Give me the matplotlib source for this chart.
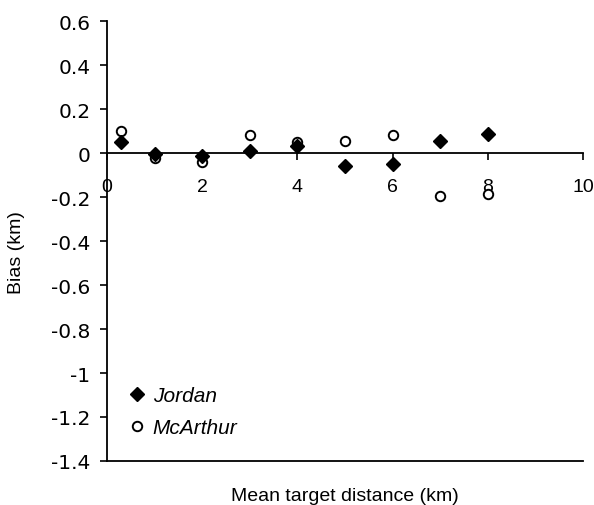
import matplotlib
matplotlib.use("Agg")
import matplotlib.pyplot as plt

jordan_x = [0.3, 1, 2, 3, 4, 5, 6, 7, 8]
jordan_y = [0.05, -0.005, -0.015, 0.01, 0.03, -0.06, -0.05, 0.053, 0.086]
mcarthur_x = [0.3, 1, 2, 3, 4, 5, 6, 7, 8]
mcarthur_y = [0.10, -0.024, -0.04, 0.083, 0.049, 0.056, 0.082, -0.194, -0.186]

xticks = [0, 2, 4, 6, 8, 10]
yticks = [0.6, 0.4, 0.2, 0, -0.2, -0.4, -0.6, -0.8, -1, -1.2, -1.4]
ytick_labels = ["0.6", "0.4", "0.2", "0", "-0.2", "-0.4", "-0.6", "-0.8", "-1", "-1.2", "-1.4"]

fig = plt.figure(figsize=(5.94, 5.06), dpi=100)
ax = fig.add_axes([107/594, 1 - 462/506, 476/594, 440/506])

ax.plot(jordan_x, jordan_y, linestyle="none", marker="D", ms=7, color="black",
        label="Jordan", clip_on=False, zorder=4)
ax.plot(mcarthur_x, mcarthur_y, linestyle="none", marker="o", ms=6.8, mfc="white",
        mec="black", mew=1.4, label="McArthur", clip_on=False, zorder=3)

ax.set_xlim(0, 10)
ax.set_ylim(-1.4, 0.6)

for s in ["left", "bottom", "top"]:
    ax.spines[s].set_linewidth(1.3)
ax.spines["right"].set_visible(False)
ax.spines["bottom"].set_position(("data", 0))
ax.spines["top"].set_position(("data", -1.4))

ax.set_xticks(xticks)
ax.set_xticklabels([str(t) for t in xticks], fontfamily="Liberation Sans", fontsize=14)
ax.tick_params(axis="x", direction="out", length=5, width=1.2, pad=13, top=False)
ax.set_yticks(yticks)
ax.set_yticklabels(ytick_labels, fontfamily="DejaVu Sans", fontsize=14.5)
ax.tick_params(axis="y", direction="out", length=5, width=1.2, pad=7)

ax.set_xlabel("Mean target distance (km)", fontfamily="Liberation Sans", fontsize=14)
ax.xaxis.set_label_coords(0.5, -0.058)
ax.set_ylabel("Bias (km)", fontfamily="Liberation Sans", fontsize=14)
ax.yaxis.set_label_coords(-0.172, 0.475)

leg = ax.legend(loc="lower left", bbox_to_anchor=(0.0, 0.012), frameon=False,
                prop={"family": "Liberation Sans", "style": "italic", "size": 15},
                handletextpad=0.2, labelspacing=0.62, handlelength=1.1)

fig.savefig("out.png", dpi=100)
